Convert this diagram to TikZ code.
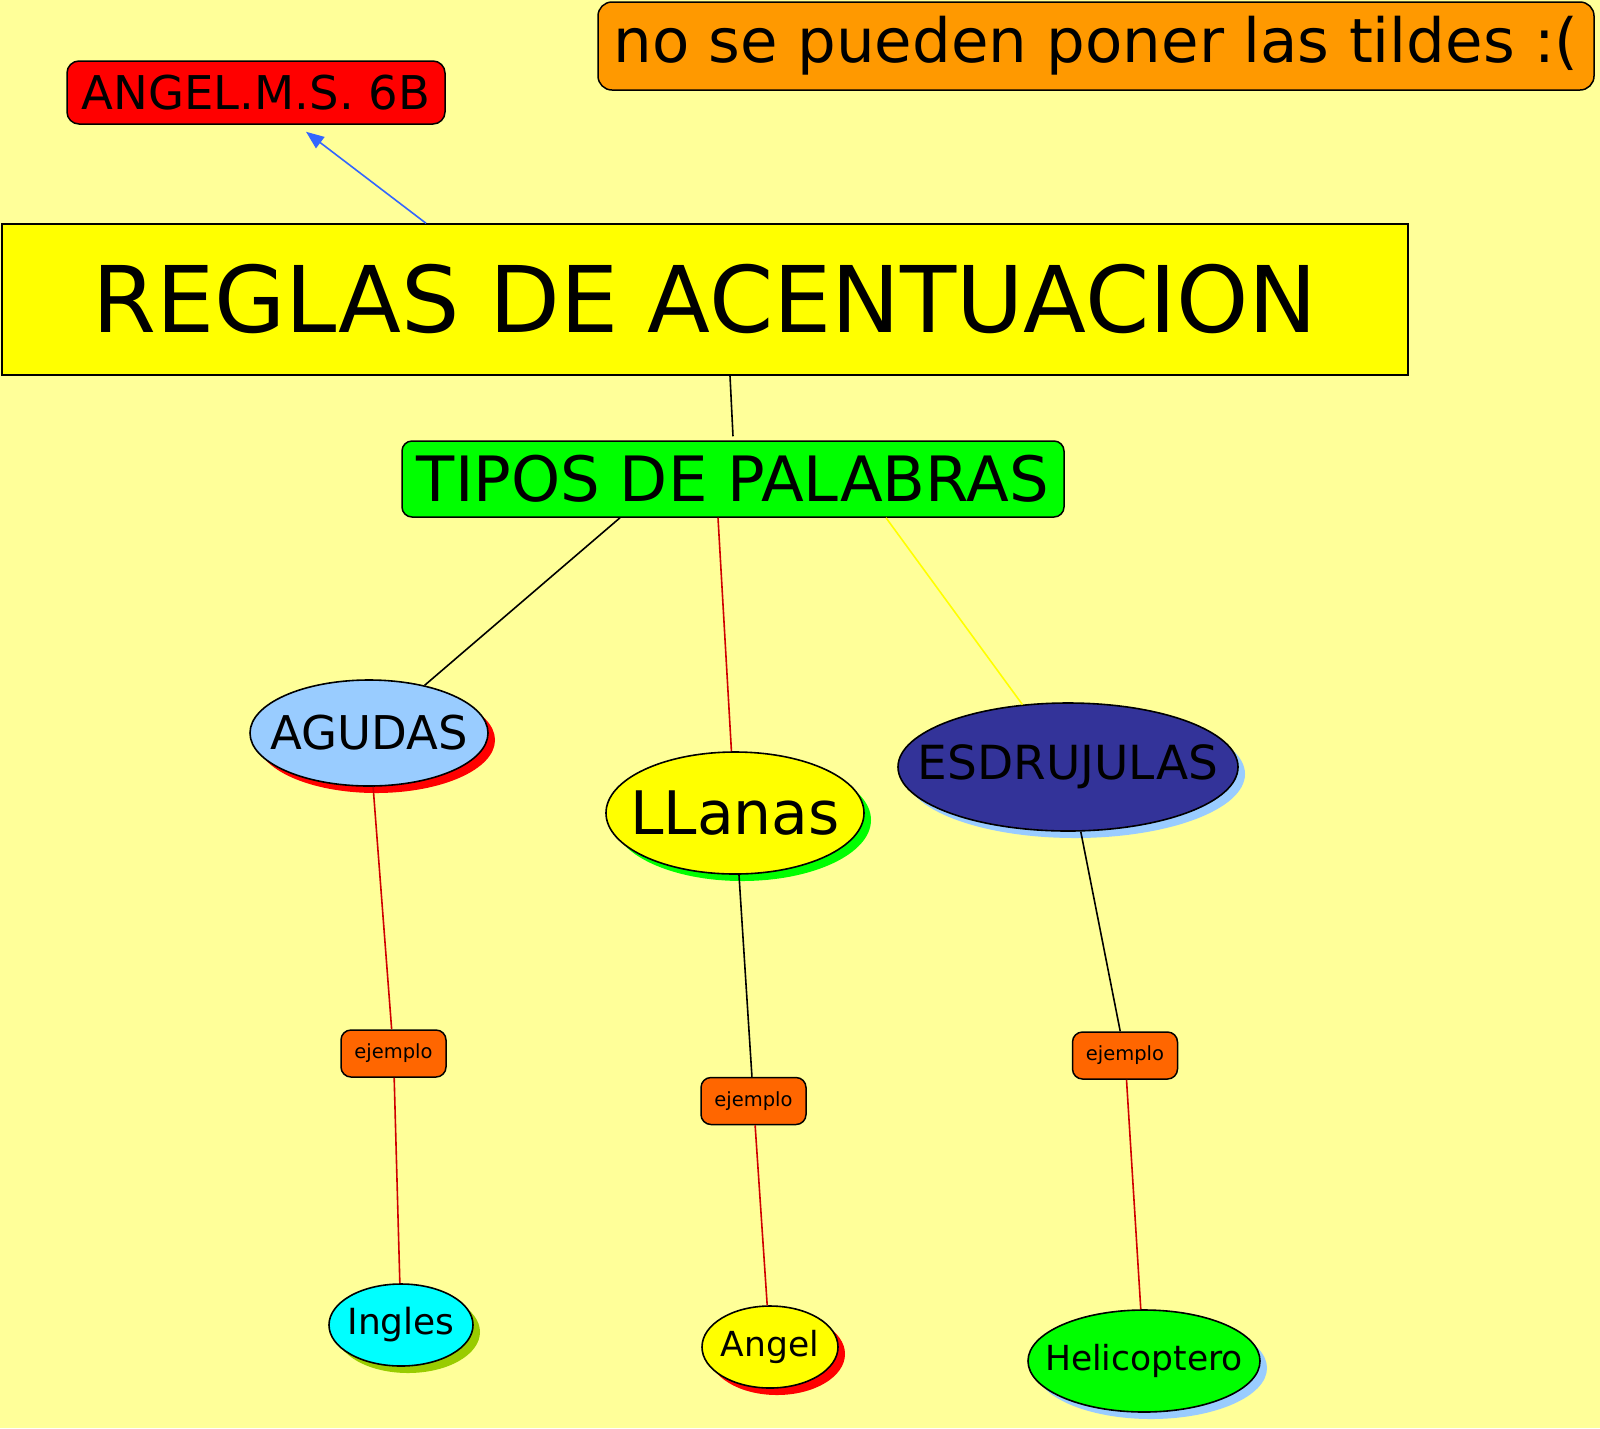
\documentclass[tikz,border=0pt]{standalone}
\usepackage{fontspec}
\setmainfont{DejaVu Sans}
\usetikzlibrary{shapes.geometric,shadows,arrows.meta}
\definecolor{bgyellow}{HTML}{FFFF99}
\definecolor{titleorange}{HTML}{FF9900}
\definecolor{exorange}{HTML}{FF6600}
\definecolor{skyblue}{HTML}{99CCFF}
\definecolor{navy}{HTML}{333399}
\definecolor{leafgreen}{HTML}{99CC00}
\definecolor{arrowblue}{HTML}{3366FF}
\definecolor{linkred}{HTML}{D00000}
\definecolor{pureyellow}{HTML}{FFFF00}
\definecolor{puregreen}{HTML}{00FF00}
\definecolor{purecyan}{HTML}{00FFFF}
\definecolor{purered}{HTML}{FF0000}
\newcommand{\fs}[1]{\fontsize{#1}{#1}\selectfont}
\newcommand{\ovaltext}[1]{\makebox[0pt]{#1}}
\begin{document}
\begin{tikzpicture}[x=1pt, y=-1pt,
  box/.style={draw, line width=1.5pt, rounded corners=12pt, inner sep=0pt},
  oval/.style={ellipse, draw, line width=1.6pt, inner sep=0pt},
  shade/.style={drop shadow={shadow xshift=7pt, shadow yshift=-7pt, fill=#1, opacity=1}},
  link/.style={line width=1.6pt}]
\useasboundingbox (0,0) rectangle (1600,1428);
\fill[bgyellow] (0,0) rectangle (1600,1428);
% top boxes
\node[box, fill=titleorange, minimum width=996pt, minimum height=88pt, rounded corners=14pt, font=\fs{61}] (nota) at (1096,46) {no se pueden poner las tildes :(};
\node[box, fill=purered, minimum width=378pt, minimum height=63pt, font=\fs{46.5}] (autor) at (256,92.5) {ANGEL.M.S. 6B};
\node[draw, line width=1.5pt, fill=pureyellow, minimum width=1406pt, minimum height=151pt, font=\fs{92}] (reglas) at (705,299.5) {REGLAS DE ACENTUACION};
\node[box, fill=puregreen, minimum width=662pt, minimum height=76pt, rounded corners=10pt, font=\fs{62.5}] (tipos) at (733,479) {TIPOS DE PALABRAS};
% word types
\node[oval, fill=skyblue, shade=purered, minimum width=238pt, minimum height=106pt, font=\fs{46.5}] (agudas) at (369,733) {\ovaltext{AGUDAS}};
\node[oval, fill=pureyellow, shade=puregreen, minimum width=258pt, minimum height=122pt, font=\fs{60}] (llanas) at (735,813) {\ovaltext{LLanas}};
\node[oval, fill=navy, shade=skyblue, minimum width=340pt, minimum height=128pt, font=\fs{47}] (esdrujulas) at (1068,767) {\ovaltext{ESDRUJULAS}};
% examples
\node[box, fill=exorange, minimum width=105pt, minimum height=47pt, rounded corners=10pt, font=\fs{19.5}] (ej1) at (393.5,1053.5) {ejemplo};
\node[box, fill=exorange, minimum width=105pt, minimum height=47pt, rounded corners=10pt, font=\fs{19.5}] (ej2) at (753.5,1101) {ejemplo};
\node[box, fill=exorange, minimum width=105pt, minimum height=47pt, rounded corners=10pt, font=\fs{19.5}] (ej3) at (1125,1055.5) {ejemplo};
\node[oval, fill=purecyan, shade=leafgreen, minimum width=144pt, minimum height=82pt, font=\fs{36}] (ingles) at (401,1325) {\ovaltext{Ingles}};
\node[oval, fill=pureyellow, shade=purered, minimum width=136pt, minimum height=82pt, font=\fs{34.5}] (angel) at (770,1347) {\ovaltext{Angel}};
\node[oval, fill=puregreen, shade=skyblue, minimum width=232pt, minimum height=102pt, font=\fs{34.5}] (heli) at (1144,1361) {\ovaltext{Helicoptero}};
% connectors
\draw[link, arrowblue, -{Triangle[length=18pt, width=14pt]}] ([xshift=-279pt]reglas.north) -- ([xshift=50pt, yshift=-7pt]autor.south);
\draw[link] ([xshift=25pt]reglas.south) -- ([yshift=4pt]tipos.north);
\draw[link] ([xshift=-113pt]tipos.south) -- (agudas);
\draw[link, linkred] ([xshift=-15pt]tipos.south) -- (llanas);
\draw[link, pureyellow] ([xshift=153pt]tipos.south) -- (esdrujulas);
\draw[link, linkred] (agudas) -- (ej1);
\draw[link, linkred] (ej1) -- (ingles);
\draw[link] (llanas) -- (ej2);
\draw[link, linkred] (ej2) -- (angel);
\draw[link] (esdrujulas) -- (ej3);
\draw[link, linkred] (ej3) -- (heli);
\end{tikzpicture}
\end{document}
